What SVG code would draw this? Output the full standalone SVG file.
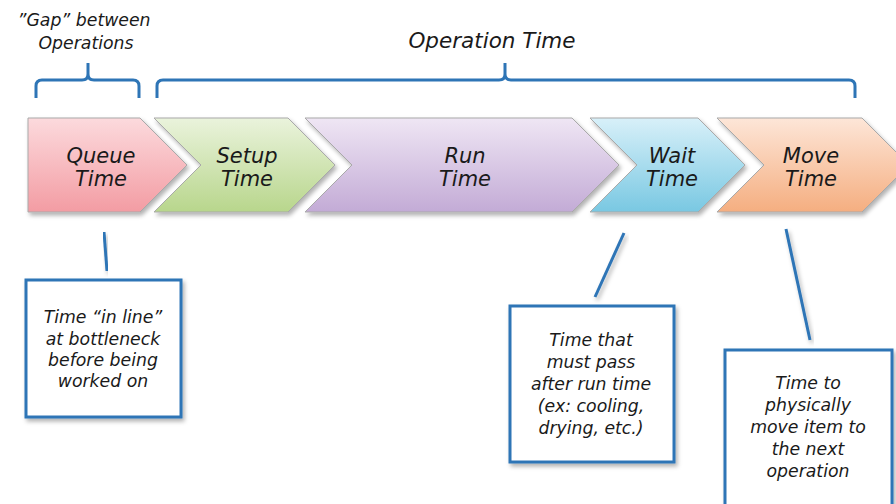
<svg xmlns="http://www.w3.org/2000/svg" width="896" height="504" viewBox="0 0 896 504">
<defs>
<linearGradient id="gq" x1="0" y1="0" x2="0" y2="1"><stop offset="0" stop-color="#fcdadd"/><stop offset="1" stop-color="#f39ca3"/></linearGradient>
<linearGradient id="gs" x1="0" y1="0" x2="0" y2="1"><stop offset="0" stop-color="#eaf3dc"/><stop offset="1" stop-color="#b8d68c"/></linearGradient>
<linearGradient id="gr" x1="0" y1="0" x2="0" y2="1"><stop offset="0" stop-color="#efe6f4"/><stop offset="1" stop-color="#c3abd6"/></linearGradient>
<linearGradient id="gw" x1="0" y1="0" x2="0" y2="1"><stop offset="0" stop-color="#d8f0f9"/><stop offset="1" stop-color="#79c8e2"/></linearGradient>
<linearGradient id="gm" x1="0" y1="0" x2="0" y2="1"><stop offset="0" stop-color="#fde6d8"/><stop offset="1" stop-color="#f5ae80"/></linearGradient>
<filter id="sh" x="-10%" y="-10%" width="125%" height="125%"><feDropShadow dx="2" dy="3" stdDeviation="2" flood-color="#000" flood-opacity="0.3"/></filter>
</defs>
<style>
.chev{stroke:#a9a9a9;stroke-width:1;filter:url(#sh)}
.lbl{font-family:"DejaVu Sans",Verdana,sans-serif;font-style:italic;font-size:21px;fill:#1a1a1a;text-anchor:middle}
.top{font-family:"DejaVu Sans",Verdana,sans-serif;font-style:italic;fill:#1a1a1a;text-anchor:middle}
.box{fill:#fff;stroke:#2e75b6;stroke-width:3;filter:url(#sh)}
.bt{font-family:"DejaVu Sans",Verdana,sans-serif;font-style:italic;font-size:17.3px;fill:#1a1a1a;text-anchor:middle}
.br{fill:none;stroke:#2e75b6;stroke-width:3}
.ln{stroke:#2e75b6;stroke-width:3;filter:url(#sh)}
</style>
<g id="labels">
<text class="top" x="84" y="26" font-size="17.3">”Gap” between</text>
<text class="top" x="86" y="49" font-size="17.3">Operations</text>
<text class="top" x="492" y="48" font-size="21.5">Operation Time</text>
<path class="br" d="M36 98 V86 Q36 80 42 80 H82 Q88 80 88 74 V63 M88 74 Q88 80 94 80 H133 Q139 80 139 86 V98"/>
<path class="br" d="M157 98 V86 Q157 80 163 80 H499 Q505 80 505 74 V63 M505 74 Q505 80 511 80 H849 Q855 80 855 86 V98"/>
</g>
<g id="queue">
<path class="chev" fill="url(#gq)" d="M28 118 H140 L187 165 L140 212 H28 Z"/>
<text class="lbl" x="101" y="163">Queue</text><text class="lbl" x="101" y="186">Time</text>
</g>
<g id="setup">
<path class="chev" fill="url(#gs)" d="M154 118 H288 L335 165 L288 212 H154 L201 165 Z"/>
<text class="lbl" x="247" y="163">Setup</text><text class="lbl" x="247" y="186">Time</text>
</g>
<g id="run">
<path class="chev" fill="url(#gr)" d="M305 118 H572 L619 165 L572 212 H305 L352 165 Z"/>
<text class="lbl" x="465" y="163">Run</text><text class="lbl" x="465" y="186">Time</text>
</g>
<g id="wait">
<path class="chev" fill="url(#gw)" d="M590 118 H698 L745 165 L698 212 H590 L637 165 Z"/>
<text class="lbl" x="672" y="163">Wait</text><text class="lbl" x="672" y="186">Time</text>
</g>
<g id="move">
<path class="chev" fill="url(#gm)" d="M717 118 H862 L909 165 L862 212 H717 L764 165 Z"/>
<text class="lbl" x="811" y="163">Move</text><text class="lbl" x="811" y="186">Time</text>
</g>
<g id="connectors">
<line class="ln" x1="104" y1="232" x2="107" y2="271"/>
<line class="ln" x1="624" y1="233" x2="595" y2="297"/>
<line class="ln" x1="786" y1="229" x2="810" y2="340"/>
</g>
<g id="note-queue">
<rect class="box" x="26" y="280" width="155" height="137"/>
<text class="bt" x="103" y="323">Time “in line”</text>
<text class="bt" x="103" y="345">at bottleneck</text>
<text class="bt" x="103" y="366">before being</text>
<text class="bt" x="103" y="387">worked on</text>
</g>
<g id="note-wait">
<rect class="box" x="510" y="306" width="164" height="156"/>
<text class="bt" x="591" y="346">Time that</text>
<text class="bt" x="591" y="368">must pass</text>
<text class="bt" x="591" y="390">after run time</text>
<text class="bt" x="591" y="412">(ex: cooling,</text>
<text class="bt" x="591" y="434">drying, etc.)</text>
</g>
<g id="note-move">
<rect class="box" x="725" y="350" width="167" height="170"/>
<text class="bt" x="808" y="389">Time to</text>
<text class="bt" x="808" y="411">physically</text>
<text class="bt" x="808" y="433">move item to</text>
<text class="bt" x="808" y="455">the next</text>
<text class="bt" x="808" y="477">operation</text>
</g>
</svg>
